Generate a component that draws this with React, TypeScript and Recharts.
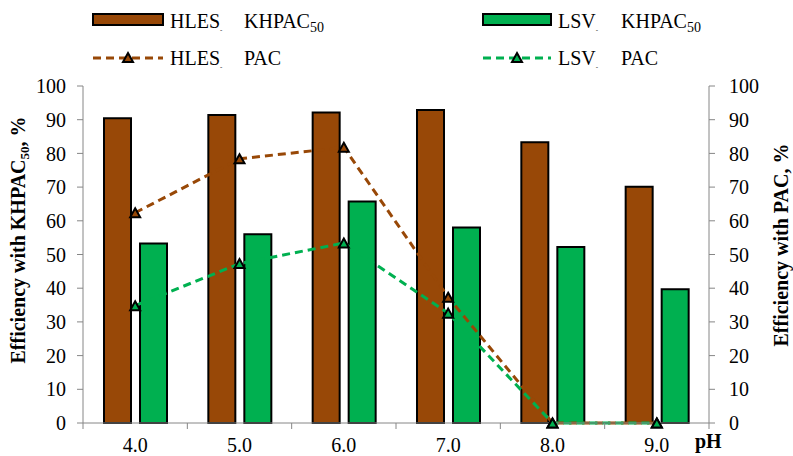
import React from 'react';
import { ComposedChart, Bar, Line, XAxis, YAxis } from 'recharts';

const categories = ['4.0', '5.0', '6.0', '7.0', '8.0', '9.0'];
const hlesKhpac50 = [90.4, 91.4, 92.1, 92.9, 83.3, 70.1];
const lsvKhpac50 = [53.3, 56.0, 65.7, 58.0, 52.2, 39.7];
const hlesPac = [62.4, 78.4, 81.8, 37.3, 0, 0];
const lsvPac = [34.8, 47.3, 53.4, 32.6, 0, 0];
const yTicks = [0, 10, 20, 30, 40, 50, 60, 70, 80, 90, 100];

const data = categories.map((ph, i) => ({
  ph,
  hlesKhpac50: hlesKhpac50[i],
  lsvKhpac50: lsvKhpac50[i],
  hlesPac: hlesPac[i],
  lsvPac: lsvPac[i],
}));

const W = 793;
const H = 456;
const LEFT = 83;
const RIGHT = 709;
const TOP = 86;
const BOTTOM = 423;
const BROWN = '#984807';
const GREEN = '#00B050';
const AXIS = '#868686';
const FONT = "'Liberation Serif', 'Times New Roman', Times, serif";

const makeTriangle = (color: string) => (props: any) => {
  const { cx, cy, index } = props;
  if (cx == null || cy == null) return <g key={`t-${index}`} />;
  return (
    <path
      key={`t-${index}`}
      d={`M${cx},${cy - 4.5} L${cx + 5},${cy + 4.5} L${cx - 5},${cy + 4.5} Z`}
      fill={color}
      stroke="#000"
      strokeWidth={2}
    />
  );
};

const XTick = (props: any) => {
  const { x, payload } = props;
  const band = (RIGHT - LEFT) / categories.length;
  const isLast = payload.value === categories[categories.length - 1];
  return (
    <g>
      <line x1={x - band / 2} x2={x - band / 2} y1={BOTTOM} y2={BOTTOM + 6} stroke={AXIS} />
      {isLast && <line x1={x + band / 2} x2={x + band / 2} y1={BOTTOM} y2={BOTTOM + 6} stroke={AXIS} />}
      <text x={x} y={452} textAnchor="middle" style={{ fontFamily: FONT }} fontSize={20} fill="#000">
        {payload.value}
      </text>
    </g>
  );
};

const LeftTitle = () => (
  <text
    x={25}
    y={240}
    transform="rotate(-90, 25, 240)"
    textAnchor="middle"
    style={{ fontFamily: FONT }}
    fontSize={20}
    fontWeight="bold"
    fill="#000"
  >
    Efficiency with KHPAC<tspan fontSize={13} dy={4}>50</tspan>
    <tspan dy={-4}>, %</tspan>
  </text>
);

const RightTitle = () => (
  <text
    x={788}
    y={245}
    transform="rotate(-90, 788, 245)"
    textAnchor="middle"
    style={{ fontFamily: FONT }}
    fontSize={20}
    fontWeight="bold"
    fill="#000"
  >
    Efficiency with PAC, %
  </text>
);

const PhLabel = () => (
  <text x={695} y={448} style={{ fontFamily: FONT }} fontSize={20} fontWeight="bold" fill="#000">
    pH
  </text>
);

const LegendText = ({ x, x2, y, name, method, sub }: any) => (
  <text x={x} y={y} style={{ fontFamily: FONT }} fontSize={20} fill="#000">
    {name}
    <tspan fontSize={7} dy={4}>-</tspan>
    <tspan x={x2} dy={-4}>{method}</tspan>
    {sub ? <tspan fontSize={14} dy={4}>{sub}</tspan> : null}
  </text>
);

const LegendOverlay = () => (
  <svg width={W} height={72} style={{ position: 'absolute', left: 0, top: 0 }}>
    <rect x={93} y={14} width={70} height={11} fill={BROWN} stroke="#000" strokeWidth={2} />
    <LegendText x={170} x2={244} y={28} name="HLES" method="KHPAC" sub="50" />
    <rect x={483} y={14} width={68} height={11} fill={GREEN} stroke="#000" strokeWidth={2} />
    <LegendText x={558} x2={621} y={28} name="LSV" method="KHPAC" sub="50" />
    <line x1={93} x2={163} y1={58} y2={58} stroke={BROWN} strokeWidth={3} strokeDasharray="8 5" />
    {makeTriangle(BROWN)({ cx: 128, cy: 57.5, index: 'lg1' })}
    <LegendText x={170} x2={244} y={65} name="HLES" method="PAC" />
    <line x1={483} x2={551} y1={58} y2={58} stroke={GREEN} strokeWidth={3} strokeDasharray="8 5" />
    {makeTriangle(GREEN)({ cx: 517, cy: 57.5, index: 'lg2' })}
    <LegendText x={558} x2={621} y={65} name="LSV" method="PAC" />
  </svg>
);

export default function App() {
  return (
    <div style={{ position: 'absolute', left: 0, top: 0, width: W, height: H, background: '#fff', fontFamily: FONT }}>
      <ComposedChart
        width={W}
        height={H}
        data={data}
        margin={{ top: TOP, right: 0, bottom: 0, left: 0 }}
        barGap={9}
        style={{ fontFamily: FONT }}
      >
        <XAxis
          dataKey="ph"
          height={H - BOTTOM}
          axisLine={{ stroke: AXIS }}
          tickLine={false}
          tick={XTick}
          interval={0}
          label={PhLabel}
        />
        <YAxis
          yAxisId="left"
          orientation="left"
          width={LEFT}
          type="number"
          domain={[0, 100]}
          ticks={yTicks}
          interval={0}
          tickSize={6}
          tickMargin={11}
          axisLine={{ stroke: AXIS }}
          tickLine={{ stroke: AXIS }}
          tick={{ fill: '#000', fontSize: 20, style: { fontFamily: FONT } }}
          label={LeftTitle}
        />
        <YAxis
          yAxisId="right"
          orientation="right"
          width={W - RIGHT}
          type="number"
          domain={[0, 100]}
          ticks={yTicks}
          interval={0}
          tickSize={6}
          tickMargin={14}
          axisLine={{ stroke: AXIS }}
          tickLine={{ stroke: AXIS }}
          tick={{ fill: '#000', fontSize: 20, style: { fontFamily: FONT } }}
          label={RightTitle}
        />
        <Line
          yAxisId="right"
          dataKey="hlesPac"
          stroke={BROWN}
          strokeWidth={3}
          strokeDasharray="8 5"
          dot={false}
          activeDot={false}
          isAnimationActive={false}
        />
        <Line
          yAxisId="right"
          dataKey="lsvPac"
          stroke={GREEN}
          strokeWidth={3}
          strokeDasharray="8 5"
          dot={false}
          activeDot={false}
          isAnimationActive={false}
        />
        <Bar yAxisId="left" dataKey="hlesKhpac50" fill={BROWN} stroke="#000" strokeWidth={2} barSize={27} isAnimationActive={false} />
        <Bar yAxisId="left" dataKey="lsvKhpac50" fill={GREEN} stroke="#000" strokeWidth={2} barSize={27} isAnimationActive={false} />
        <Line
          yAxisId="right"
          dataKey="hlesPac"
          stroke="none"
          dot={makeTriangle(BROWN)}
          activeDot={false}
          isAnimationActive={false}
        />
        <Line
          yAxisId="right"
          dataKey="lsvPac"
          stroke="none"
          dot={makeTriangle(GREEN)}
          activeDot={false}
          isAnimationActive={false}
        />
      </ComposedChart>
      <LegendOverlay />
    </div>
  );
}
